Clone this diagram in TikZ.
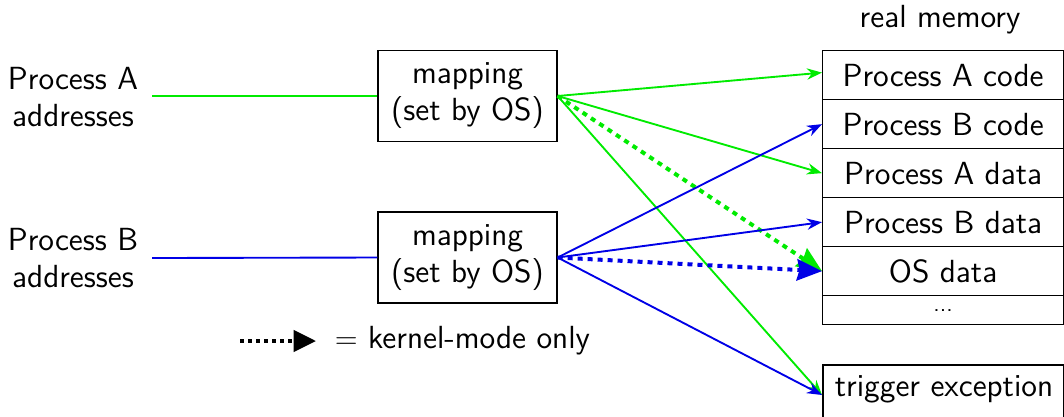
\documentclass[tikz,border=0pt]{standalone}
\usetikzlibrary{arrows.meta}
\begin{document}
\begin{tikzpicture}[x=0.4pt,y=-0.4pt,
  font=\sffamily\fontsize{12.8}{14.8}\selectfont,
  mapbox/.style={draw, line width=0.5pt, minimum width=71.6pt, minimum height=36.4pt, align=center, inner sep=0pt},
  memrow/.style={draw, line width=0.5pt, minimum width=96.4pt, minimum height=19.6pt, inner sep=0pt, anchor=north west},
  lbl/.style={align=center},
  conn/.style={line width=0.75pt, -{Stealth[length=6pt,width=4.5pt]}},
  kconn/.style={line width=1.6pt, dash pattern=on 2pt off 2pt, -{Stealth[length=10pt,width=8.5pt,inset=1pt]}},
  ga/.style={color={rgb,255:red,0;green,235;blue,0}},
  bl/.style={color={rgb,255:red,0;green,0;blue,230}}
]
\useasboundingbox (0,0) rectangle (1064,416);

\node[lbl] (pa) at (73,97) {Process A\\addresses};
\node[lbl] (pb) at (73,258) {Process B\\addresses};
\coordinate (pae) at (152,96);
\coordinate (pbe) at (152,258);

\node[mapbox] (ma) at (467.5,96) {mapping\\(set by OS)};
\node[mapbox] (mb) at (467.5,257.5) {mapping\\(set by OS)};

\node (rm) at (940,20) {real memory};
\node[memrow] (r1) at (822,50) {Process A code};
\node[memrow] (r2) at (822,99) {Process B code};
\node[memrow] (r3) at (822,148) {Process A data};
\node[memrow] (r4) at (822,197) {Process B data};
\node[memrow] (r5) at (822,246) {OS data};
\node[memrow, minimum height=11.6pt, font=\sffamily\fontsize{9}{9}\selectfont] (r6) at (822,295) {...};
\node[draw, line width=0.8pt, anchor=north west, minimum width=96.4pt, minimum height=22pt, inner sep=0pt] (te) at (822,364) {};
\node (tet) at (944,389) {trigger exception};

\draw[ga, line width=0.75pt] (pae) -- (ma.west);
\draw[bl, line width=0.75pt] (pbe) -- (mb.west);

\coordinate (a0) at (ma.east);
\coordinate (b0) at (mb.east);

\draw[conn, ga] (a0) -- ([yshift=1pt]r1.west);
\draw[conn, ga] (a0) -- (r3.west);
\draw[conn, ga] (a0) -- ([yshift=-1pt]te.west);
\draw[kconn, ga] (a0) -- (r5.west);

\draw[conn, bl] (b0) -- (r2.west);
\draw[conn, bl] (b0) -- (r4.west);
\draw[conn, bl] (b0) -- ([yshift=-1pt]te.west);
\draw[kconn, bl] (b0) -- (r5.west);

\coordinate (l0) at (240,341);
\coordinate (l1) at (316,341);
\draw[line width=1.6pt, dash pattern=on 1.6pt off 1.6pt, -{Stealth[length=9pt,width=8.5pt,inset=0pt]}] (l0) -- (l1);
\node[anchor=west] (lt) at (326,341) {$=$ kernel-mode only};
\end{tikzpicture}
\end{document}
